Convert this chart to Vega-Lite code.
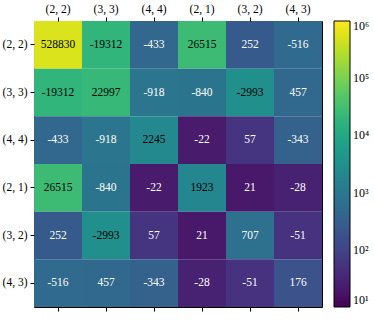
{
  "$schema": "https://vega.github.io/schema/vega-lite/v6.json",
  "autosize": {"type": "none"},
  "padding": {"left": 34, "top": 21, "right": 52, "bottom": 14},
  "width": 288,
  "height": 286,
  "background": "white",
  "config": {
    "font": "Liberation Serif",
    "view": {"stroke": "black", "strokeWidth": 1},
    "axis": {"domain": false, "tickColor": "black", "tickSize": 4, "labelColor": "black", "labelFont": "Liberation Serif", "labelFontSize": 11.5, "labelPadding": 3, "title": null, "grid": false}
  },
  "data": {
    "values": [
      {"r": "(2, 2)", "c": "(2, 2)", "v": 528830, "mag": 528830},
      {"r": "(2, 2)", "c": "(3, 3)", "v": -19312, "mag": 19312},
      {"r": "(2, 2)", "c": "(4, 4)", "v": -433, "mag": 433},
      {"r": "(2, 2)", "c": "(2, 1)", "v": 26515, "mag": 26515},
      {"r": "(2, 2)", "c": "(3, 2)", "v": 252, "mag": 252},
      {"r": "(2, 2)", "c": "(4, 3)", "v": -516, "mag": 516},
      {"r": "(3, 3)", "c": "(2, 2)", "v": -19312, "mag": 19312},
      {"r": "(3, 3)", "c": "(3, 3)", "v": 22997, "mag": 22997},
      {"r": "(3, 3)", "c": "(4, 4)", "v": -918, "mag": 918},
      {"r": "(3, 3)", "c": "(2, 1)", "v": -840, "mag": 840},
      {"r": "(3, 3)", "c": "(3, 2)", "v": -2993, "mag": 2993},
      {"r": "(3, 3)", "c": "(4, 3)", "v": 457, "mag": 457},
      {"r": "(4, 4)", "c": "(2, 2)", "v": -433, "mag": 433},
      {"r": "(4, 4)", "c": "(3, 3)", "v": -918, "mag": 918},
      {"r": "(4, 4)", "c": "(4, 4)", "v": 2245, "mag": 2245},
      {"r": "(4, 4)", "c": "(2, 1)", "v": -22, "mag": 22},
      {"r": "(4, 4)", "c": "(3, 2)", "v": 57, "mag": 57},
      {"r": "(4, 4)", "c": "(4, 3)", "v": -343, "mag": 343},
      {"r": "(2, 1)", "c": "(2, 2)", "v": 26515, "mag": 26515},
      {"r": "(2, 1)", "c": "(3, 3)", "v": -840, "mag": 840},
      {"r": "(2, 1)", "c": "(4, 4)", "v": -22, "mag": 22},
      {"r": "(2, 1)", "c": "(2, 1)", "v": 1923, "mag": 1923},
      {"r": "(2, 1)", "c": "(3, 2)", "v": 21, "mag": 21},
      {"r": "(2, 1)", "c": "(4, 3)", "v": -28, "mag": 28},
      {"r": "(3, 2)", "c": "(2, 2)", "v": 252, "mag": 252},
      {"r": "(3, 2)", "c": "(3, 3)", "v": -2993, "mag": 2993},
      {"r": "(3, 2)", "c": "(4, 4)", "v": 57, "mag": 57},
      {"r": "(3, 2)", "c": "(2, 1)", "v": 21, "mag": 21},
      {"r": "(3, 2)", "c": "(3, 2)", "v": 707, "mag": 707},
      {"r": "(3, 2)", "c": "(4, 3)", "v": -51, "mag": 51},
      {"r": "(4, 3)", "c": "(2, 2)", "v": -516, "mag": 516},
      {"r": "(4, 3)", "c": "(3, 3)", "v": 457, "mag": 457},
      {"r": "(4, 3)", "c": "(4, 4)", "v": -343, "mag": 343},
      {"r": "(4, 3)", "c": "(2, 1)", "v": -28, "mag": 28},
      {"r": "(4, 3)", "c": "(3, 2)", "v": -51, "mag": 51},
      {"r": "(4, 3)", "c": "(4, 3)", "v": 176, "mag": 176}
    ]
  },
  "layer": [
    {
      "mark": {"type": "rect"},
      "encoding": {
        "x": {"field": "c", "type": "nominal", "sort": ["(2, 2)", "(3, 3)", "(4, 4)", "(2, 1)", "(3, 2)", "(4, 3)"], "scale": {"paddingInner": 0, "paddingOuter": 0}, "axis": {"orient": "top", "labelAngle": 0}},
        "y": {"field": "r", "type": "nominal", "sort": ["(2, 2)", "(3, 3)", "(4, 4)", "(2, 1)", "(3, 2)", "(4, 3)"], "scale": {"paddingInner": 0, "paddingOuter": 0}, "axis": {"orient": "left"}},
        "color": {
          "field": "mag", "type": "quantitative",
          "scale": {"type": "log", "domain": [10, 1000000], "scheme": "viridis"},
          "legend": {
            "title": null, "orient": "none", "legendX": 300, "legendY": 0, "direction": "vertical", "type": "gradient",
            "gradientLength": 286, "gradientThickness": 16, "gradientStrokeColor": "black", "gradientStrokeWidth": 1,
            "values": [10, 100, 1000, 10000, 100000, 1000000],
            "labelExpr": "'10' + ['⁰','¹','²','³','⁴','⁵','⁶'][round(log(datum.value)/LN10)]",
            "labelFont": "Liberation Serif", "labelFontSize": 12, "labelColor": "black", "labelOffset": 3, "labelOverlap": false
          }
        }
      }
    },
    {
      "mark": {"type": "text", "font": "Liberation Serif", "fontSize": 11.5},
      "encoding": {
        "x": {"field": "c", "type": "nominal", "sort": ["(2, 2)", "(3, 3)", "(4, 4)", "(2, 1)", "(3, 2)", "(4, 3)"], "axis": {"orient": "bottom", "labels": false}},
        "y": {"field": "r", "type": "nominal", "sort": ["(2, 2)", "(3, 3)", "(4, 4)", "(2, 1)", "(3, 2)", "(4, 3)"], "axis": {"orient": "right", "labels": false, "ticks": false}},
        "text": {"field": "v", "type": "nominal"},
        "color": {"condition": {"test": "datum.mag >= 1000", "value": "black"}, "value": "white"}
      }
    }
  ],
  "resolve": {"axis": {"x": "independent", "y": "independent"}}
}
